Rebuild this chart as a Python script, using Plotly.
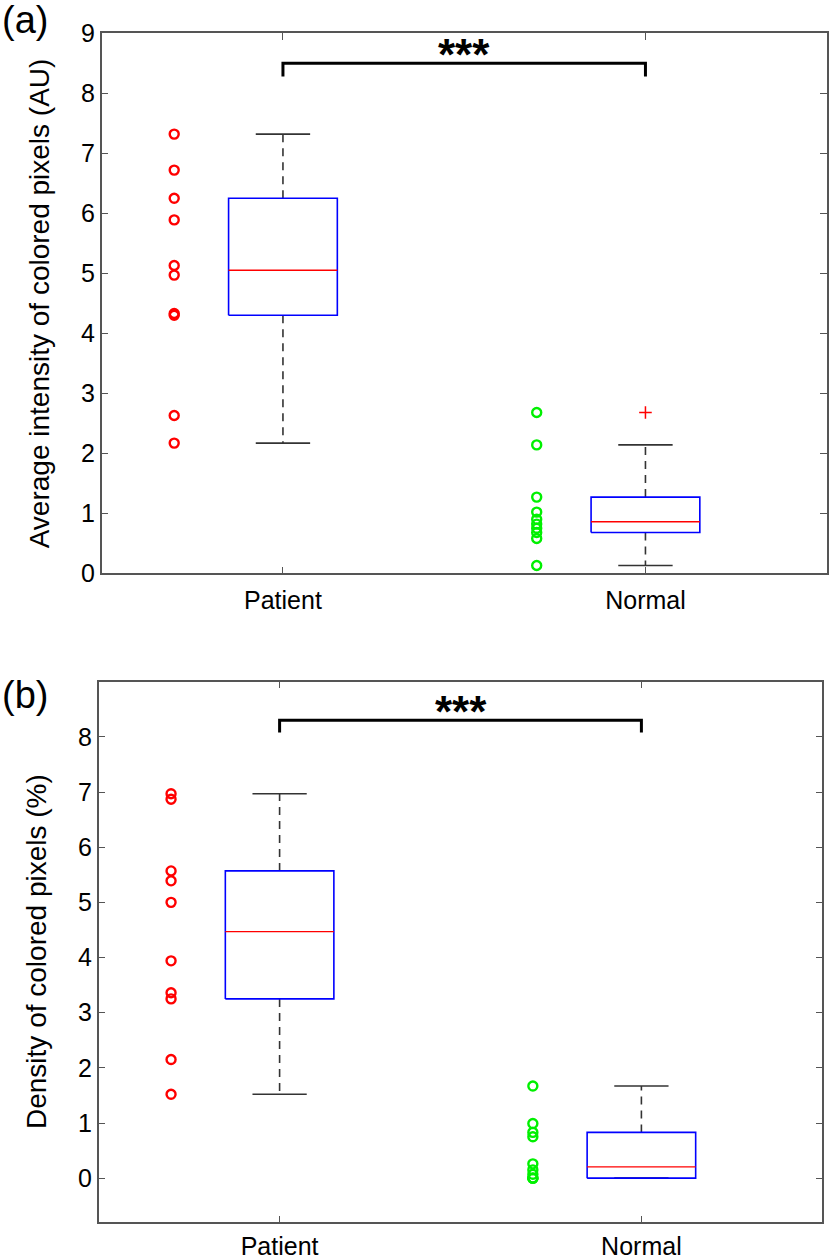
import numpy as np
import plotly.graph_objects as go

groups = ["Patient", "Normal"]

# (a) average intensity of colored pixels (AU)
intensity_patient = [7.32, 6.72, 6.25, 5.89, 5.13, 4.97, 4.33, 4.30, 2.63, 2.17]
intensity_normal = [2.68, 2.14, 1.27, 1.02, 0.90, 0.82, 0.75, 0.68, 0.58, 0.13]

# (b) density of colored pixels (%)
density_patient = [6.97, 6.87, 5.57, 5.39, 5.00, 3.94, 3.36, 3.25, 2.15, 1.52]
density_normal = [1.67, 0.99, 0.83, 0.75, 0.26, 0.15, 0.07, 0.0, 0.0, 0.0]

panel_labels = ["(a)", "(b)"]
y_titles = ["Average intensity of colored pixels (AU)", "Density of colored pixels (%)"]
significance = "***"

FONT = "Liberation Sans, Arial, sans-serif"
point_colors = ["#ff0000", "#00f000"]


def box_stats(values):
    # MATLAB-style boxplot statistics
    v = np.sort(np.asarray(values, dtype=float))
    q1, med, q3 = np.percentile(v, [25, 50, 75], method="hazen")
    iqr = q3 - q1
    inside = v[(v >= q1 - 1.5 * iqr) & (v <= q3 + 1.5 * iqr)]
    outliers = v[(v < q1 - 1.5 * iqr) | (v > q3 + 1.5 * iqr)]
    return q1, med, q3, inside.min(), inside.max(), outliers


def add_panel(fig, data, xa, ya):
    for i, (vals, color) in enumerate(zip(data, point_colors)):
        pos = i + 1
        # raw points beside each box
        fig.add_trace(go.Scatter(
            x=[pos - 0.3] * len(vals), y=vals, mode="markers",
            marker=dict(symbol="circle-open", size=9, color=color, line=dict(width=2.4)),
            xaxis=xa, yaxis=ya, showlegend=False))
        q1, med, q3, lo, hi, out = box_stats(vals)
        hw, cw = 0.15, 0.075
        line_kw = dict(mode="lines", xaxis=xa, yaxis=ya, showlegend=False, hoverinfo="skip")
        # whiskers
        fig.add_trace(go.Scatter(x=[pos, pos, None, pos, pos], y=[q3, hi, None, q1, lo],
                                 line=dict(color="#333333", width=1.6, dash="8px,6px"), **line_kw))
        fig.add_trace(go.Scatter(x=[pos - cw, pos + cw, None, pos - cw, pos + cw],
                                 y=[hi, hi, None, lo, lo],
                                 line=dict(color="#333333", width=1.6), **line_kw))
        # box
        fig.add_trace(go.Scatter(x=[pos - hw, pos + hw, pos + hw, pos - hw, pos - hw],
                                 y=[q1, q1, q3, q3, q1],
                                 line=dict(color="#0000ff", width=1.6), **line_kw))
        fig.add_trace(go.Scatter(x=[pos - hw, pos + hw], y=[med, med],
                                 line=dict(color="#ff0000", width=1.4), **line_kw))
        if len(out):
            fig.add_trace(go.Scatter(
                x=[pos] * len(out), y=out, mode="markers",
                marker=dict(symbol="cross-thin", size=9, line=dict(color="#ff0000", width=1.5)),
                xaxis=xa, yaxis=ya, showlegend=False))


fig = go.Figure()
add_panel(fig, [intensity_patient, intensity_normal], "x", "y")
add_panel(fig, [density_patient, density_normal], "x2", "y2")

# significance brackets
for xa, ya, top in [("x", "y", 8.5), ("x2", "y2", 8.3)]:
    fig.add_trace(go.Scatter(x=[1, 1, 2, 2], y=[top - 0.22, top, top, top - 0.22], mode="lines",
                             line=dict(color="black", width=3), xaxis=xa, yaxis=ya,
                             showlegend=False, hoverinfo="skip"))
    fig.add_annotation(x=1.5, y=top, xref=xa, yref=ya, text="<b>%s</b>" % significance,
                       showarrow=False, yanchor="bottom", yshift=-18,
                       font=dict(size=44, color="black", family=FONT))

axis_common = dict(showline=True, mirror="ticks", linecolor="#555555", linewidth=1.5,
                   ticks="inside", ticklen=7, tickcolor="#555555", tickwidth=1.2,
                   showgrid=False, zeroline=False, automargin=False,
                   tickfont=dict(size=25, color="black", family=FONT))

W, H = 829, 1260
fig.update_layout(
    template="none",
    width=W, height=H, margin=dict(l=0, r=0, t=0, b=0, autoexpand=False),
    plot_bgcolor="white", paper_bgcolor="white", showlegend=False,
    xaxis=dict(domain=[101.7 / W, 826.7 / W], range=[0.5, 2.5], tickvals=[1, 2], ticktext=groups,
               anchor="y", ticklabelstandoff=4, **axis_common),
    yaxis=dict(domain=[1 - 573.3 / H, 1 - 33.3 / H], range=[0, 9], tickvals=list(range(10)),
               anchor="x", **axis_common),
    xaxis2=dict(domain=[98.7 / W, 822.3 / W], range=[0.5, 2.5], tickvals=[1, 2], ticktext=groups,
                anchor="y2", ticklabelstandoff=1, **axis_common),
    yaxis2=dict(domain=[1 - 1222.3 / H, 1 - 681.7 / H], range=[-0.8, 9], tickvals=list(range(9)),
                anchor="x2", **axis_common),
)

# y titles and panel letters
for title, yc, xc in [(y_titles[0], 303.3, 39), (y_titles[1], 952, 36)]:
    fig.add_annotation(x=xc / W, y=1 - yc / H, xref="paper", yref="paper", text=title,
                       textangle=-90, showarrow=False, xanchor="center", yanchor="middle",
                       font=dict(size=28, color="black", family=FONT))
for lab, yc in zip(panel_labels, [20, 695]):
    fig.add_annotation(x=0, y=1 - yc / H, xref="paper", yref="paper", text=lab,
                       showarrow=False, xanchor="left", yanchor="middle",
                       font=dict(size=38, color="black", family=FONT))

# drop the default body margin so the figure sits at the page origin
fig.write_html("out.html", config={"displayModeBar": False},
               post_script="document.body.style.margin='0';")
